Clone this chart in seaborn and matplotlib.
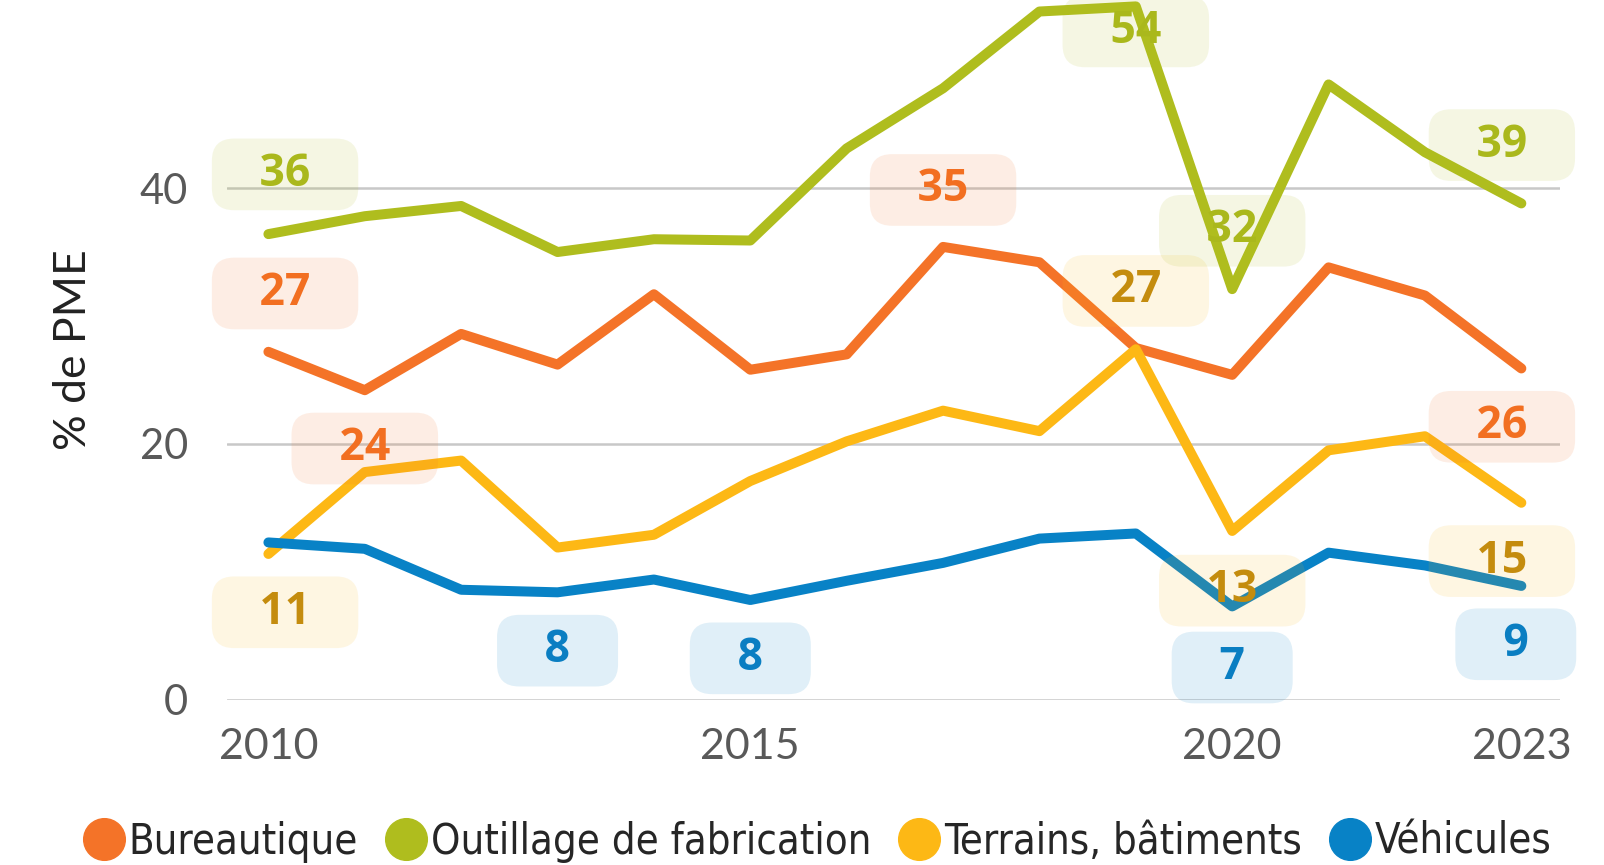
import pandas as pd
import matplotlib.pyplot as plt
import seaborn as sns
from matplotlib.lines import Line2D
from matplotlib.font_manager import FontProperties

# values (% de PME)
years = list(range(2010, 2024))
bureautique = [27.2, 24.2, 28.6, 26.2, 31.7, 25.8, 27.0, 35.4, 34.2, 27.5, 25.4, 33.8, 31.6, 25.9]
outillage = [36.4, 37.8, 38.6, 35.0, 36.0, 35.9, 43.1, 47.8, 53.8, 54.2, 32.1, 48.1, 42.8, 38.8]
terrains = [11.4, 17.8, 18.7, 11.9, 12.9, 17.1, 20.2, 22.6, 21.0, 27.4, 13.2, 19.5, 20.6, 15.4]
vehicules = [12.3, 11.8, 8.6, 8.4, 9.4, 7.8, 9.3, 10.7, 12.6, 13.0, 7.3, 11.5, 10.5, 8.9]

series_names = ["Bureautique", "Outillage de fabrication", "Terrains, bâtiments", "Véhicules"]
line_colors = ["#F47328", "#AFBD1E", "#FDB815", "#0882C6"]
text_colors = ["#F26F21", "#AAB81C", "#C48C0E", "#0A7EC2"]

# labelled points: (series index, year, dx pt, dy pt)
label_spots = [
    (1, 2010, 12, 43), (0, 2010, 12, 42), (0, 2011, 0, -42), (2, 2010, 12, -42),
    (3, 2013, 0, -42), (3, 2015, 0, -42), (0, 2017, 0, 41),
    (1, 2019, 0, -18), (2, 2019, 0, 42), (1, 2020, 0, 42), (2, 2020, 0, -43),
    (3, 2020, 0, -44), (1, 2023, -14, 42), (0, 2023, -14, -42), (2, 2023, -14, -42),
    (3, 2023, -4, -42),
]

all_values = [bureautique, outillage, terrains, vehicules]
df = pd.DataFrame({
    "annee": years * 4,
    "valeur": bureautique + outillage + terrains + vehicules,
    "serie": [n for n in series_names for _ in years],
})

sns.set_style("white")
plt.rcParams["font.family"] = ["Lato", "DejaVu Sans"]

fig = plt.figure(figsize=(16.04, 8.65), dpi=100)
ax = fig.add_axes([0.1415, 0.191, 0.831, 0.809])

sns.lineplot(data=df, x="annee", y="valeur", hue="serie", palette=line_colors,
             hue_order=series_names, linewidth=7.2, ax=ax, legend=False,
             solid_capstyle="round", solid_joinstyle="round")
for ln in ax.lines:
    ln.set_clip_on(False)

ax.set_xlim(2009.57, 2023.4)
ax.set_ylim(0, 54.7)
ax.set_yticks([0, 20, 40])
ax.set_xticks([2010, 2015, 2020, 2023])
for y in [0, 20, 40]:
    ax.axhline(y, color="#C8C8C8", lw=1.8, zorder=0)
for s in ax.spines.values():
    s.set_visible(False)
ax.tick_params(axis="x", labelsize=31, colors="#595959", length=0, pad=20)
ax.tick_params(axis="y", labelsize=30, colors="#595959", length=0, pad=28)
ax.set_xlabel("")
ax.set_ylabel("% de PME", fontsize=32, color="#222222", labelpad=33)

for si, yr, dx, dy in label_spots:
    v = all_values[si][years.index(yr)]
    ax.annotate(f"   {round(v)}   ", (yr, v), xytext=(dx, dy), textcoords="offset points",
                ha="center", va="center", fontsize=32, fontweight="bold",
                family=["Open Sans", "DejaVu Sans"], color=text_colors[si],
                annotation_clip=False, zorder=5,
                bbox=dict(boxstyle="round,pad=0.3,rounding_size=0.5",
                          fc=line_colors[si], ec="none"))
# keep text opaque while the box stays pale
for t in ax.texts:
    t.get_bbox_patch().set_alpha(0.12)

handles = [Line2D([], [], marker="o", ls="", ms=30, color=c) for c in line_colors]
legend_font = FontProperties(family="DejaVu Sans", stretch="condensed", size=30)
fig.legend(handles, series_names, loc="lower center", bbox_to_anchor=(0.503, -0.041),
           ncol=4, frameon=False, handletextpad=-0.4, columnspacing=0.15,
           prop=legend_font)

fig.savefig("out.png", dpi=100)
